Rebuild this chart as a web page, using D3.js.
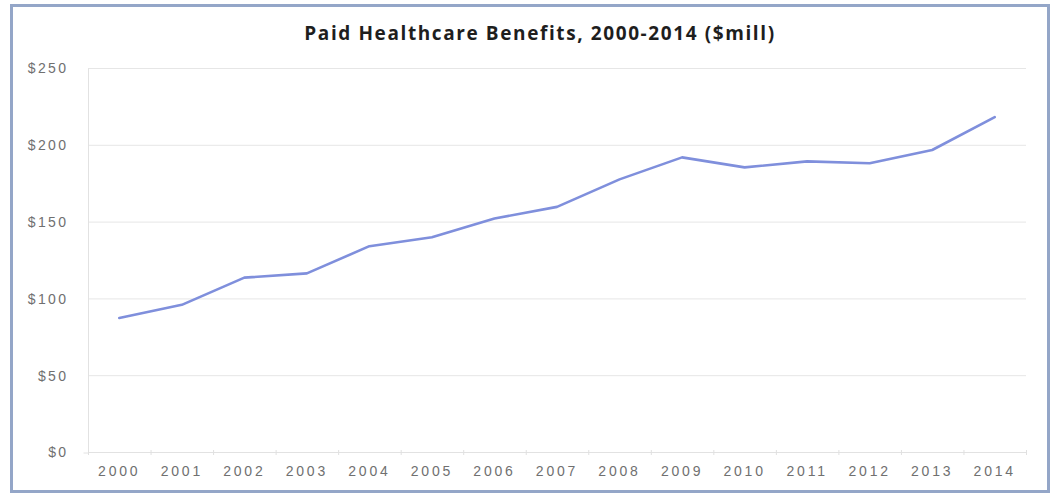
<!DOCTYPE html>
<html><head><meta charset="utf-8">
<script src="https://cdn.jsdelivr.net/npm/d3@7"></script>
<style>
html,body{margin:0;padding:0;background:#fff;}
svg{display:block;}
</style></head>
<body><svg id="c" width="1055" height="495"></svg>
<script>
const title = "Paid Healthcare Benefits, 2000-2014 ($mill)";
const years = ["2000","2001","2002","2003","2004","2005","2006","2007","2008","2009","2010","2011","2012","2013","2014"];
const benefits = [87.3, 95.8, 113.5, 116.3, 134.0, 139.8, 152.0, 159.6, 177.5, 191.8, 185.3, 189.2, 188.0, 196.6, 218.0];
const yTicks = [0, 50, 100, 150, 200, 250];

const svg = d3.select("#c");
const m = {left: 88, right: 1026, top: 68, bottom: 452};

// frame
svg.append("rect").attr("x", 11.5).attr("y", 5.5).attr("width", 1037).attr("height", 486)
  .attr("fill", "#fff").attr("stroke", "#94a6c8").attr("stroke-width", 3);

const x = d3.scaleBand().domain(years).range([m.left, m.right]).paddingInner(0).paddingOuter(0);
const y = d3.scaleLinear().domain([0, 250]).range([m.bottom, m.top]);

// gridlines
svg.append("g").selectAll("line").data(yTicks.filter(d => d > 0)).join("line")
  .attr("x1", m.left).attr("x2", m.right)
  .attr("y1", d => y(d) + 0.5).attr("y2", d => y(d) + 0.5)
  .attr("stroke", "#e6e6e6").attr("stroke-width", 1);

// y axis
const yAxis = d3.axisLeft(y).tickValues(yTicks).tickSize(5).tickPadding(15)
  .tickFormat(d => "$" + d);
const gy = svg.append("g").attr("transform", `translate(${m.left + 0.5},0.5)`).call(yAxis);
gy.select(".domain").attr("stroke", "#e2e2e2").attr("d", `M0,${m.top}V${m.bottom}`);
gy.selectAll(".tick line").attr("stroke", "#e2e2e2").attr("x2", d => d === 0 ? -5 : 0);
gy.selectAll(".tick text").attr("fill", "#707070").style("font-family", "'Liberation Sans', Arial, sans-serif")
  .style("font-size", "14px").style("letter-spacing", "2.4px");

// x axis
const xAxis = d3.axisBottom(x).tickSize(0).tickPadding(14);
const gx = svg.append("g").attr("transform", `translate(0,${m.bottom + 0.5})`).call(xAxis);
gx.select(".domain").attr("stroke", "#e2e2e2").attr("d", `M${m.left},0H${m.right}`);
gx.selectAll(".tick text").attr("fill", "#707070").style("font-family", "'Liberation Sans', Arial, sans-serif")
  .style("font-size", "14px").style("letter-spacing", "2.8px");
// category boundary ticks
const bounds = years.map(d => x(d)).concat([m.right]);
svg.append("g").selectAll("line").data(bounds).join("line")
  .attr("x1", d => d + 0.5).attr("x2", d => d + 0.5)
  .attr("y1", m.bottom - 2).attr("y2", m.bottom + 3)
  .attr("stroke", "#e0e0e0");

// line
const line = d3.line().x((d, i) => x(years[i]) + x.bandwidth() / 2).y(d => y(d));
svg.append("path").datum(benefits).attr("d", line)
  .attr("fill", "none").attr("stroke", "#7f8fdc").attr("stroke-width", 2.6)
  .attr("stroke-linejoin", "round").attr("stroke-linecap", "round");

// title
svg.append("text").attr("x", 540).attr("y", 40).attr("text-anchor", "middle")
  .style("font-family", "'Open Sans', sans-serif").style("font-weight", "bold")
  .style("font-size", "19px").style("letter-spacing", "1.6px").attr("fill", "#1e1e1e").text(title);
</script></body></html>
